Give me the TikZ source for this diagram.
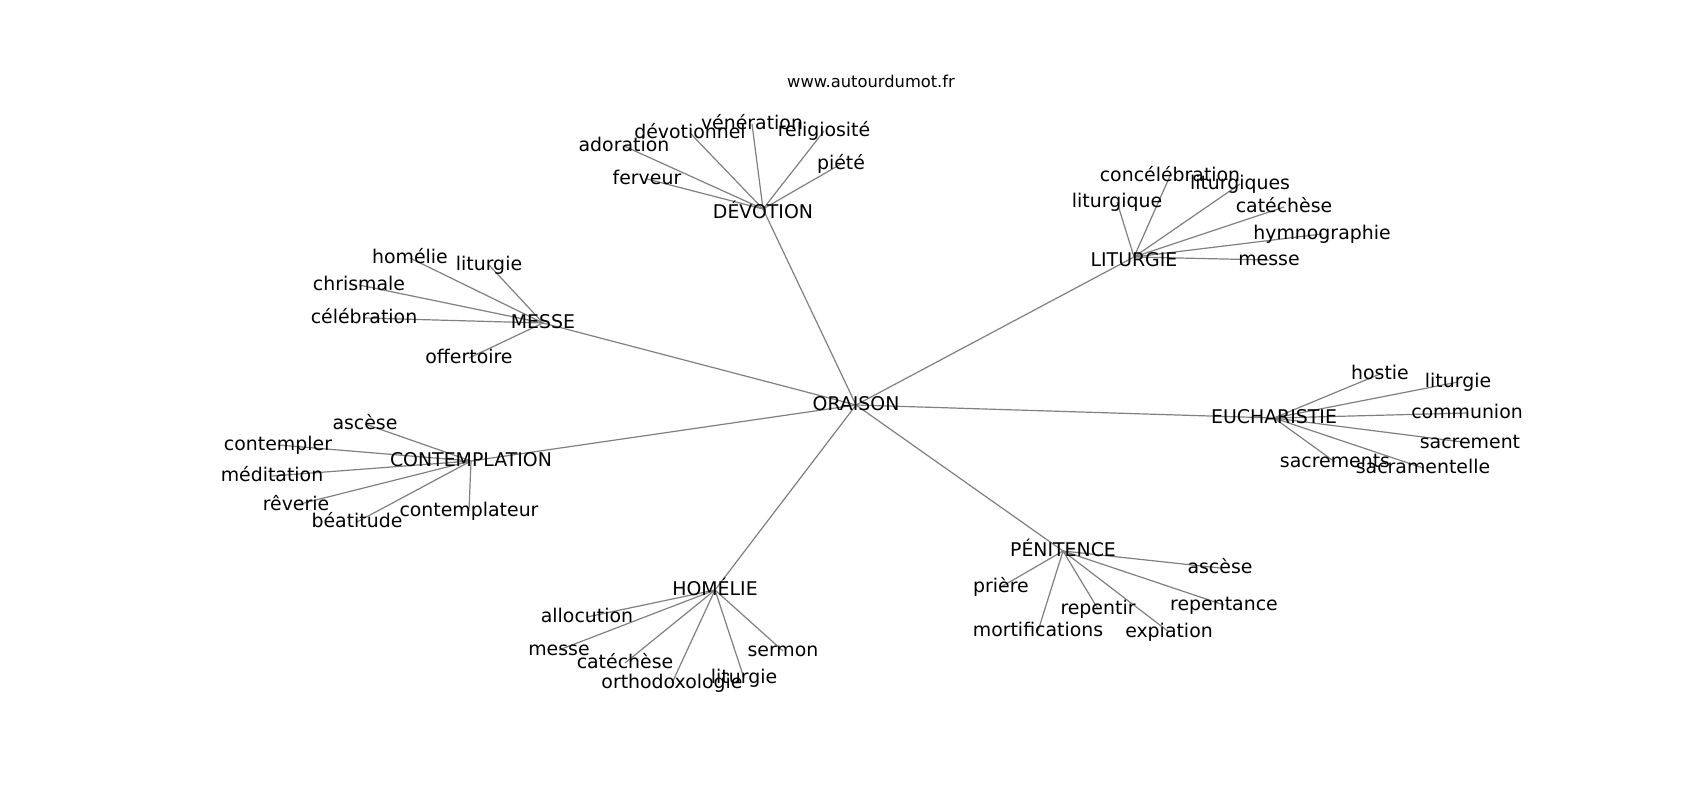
\documentclass[tikz,border=0pt]{standalone}
\usepackage{fontspec}
\setmainfont{DejaVu Sans}
\usetikzlibrary{backgrounds}
\tikzset{
  lbl/.style={inner sep=0pt, outer sep=0pt, text height=1.2em, text depth=0.172em,
    font=\fontsize{18.9pt}{22pt}\selectfont, text=black},
  lowlbl/.style={lbl, text height=2.05em},
  titlelbl/.style={inner sep=0pt, outer sep=0pt, text height=1.2em, text depth=0.172em,
    font=\fontsize{16.3pt}{19pt}\selectfont, text=black},
  edge/.style={draw=gray, line width=1.2pt}
}
\begin{document}
\begin{tikzpicture}[x=1pt,y=-1pt]
\useasboundingbox (0,0) rectangle (1700,800);
% title
\node[titlelbl] (title) at (871,82) {www.autourdumot.fr};
% hubs
\node[lbl] (oraison) at (856,405) {ORAISON};
\node[lowlbl] (devotion) at (763,209) {DÉVOTION};
\node[lowlbl] (liturgie) at (1134,257) {LITURGIE};
\node[lbl] (messe) at (543,323) {MESSE};
\node[lbl] (contemplation) at (471,461) {CONTEMPLATION};
\node[lbl] (eucharistie) at (1274,418) {EUCHARISTIE};
\node[lbl] (homelie) at (715,590) {HOMÉLIE};
\node[lbl] (penitence) at (1063,551) {PÉNITENCE};
% DÉVOTION leaves
\node[lbl] (adoration) at (624,146) {adoration};
\node[lbl] (devotionnel) at (690,133) {dévotionnel};
\node[lbl] (veneration) at (752,124) {vénération};
\node[lbl] (religiosite) at (824,131) {religiosité};
\node[lbl] (piete) at (841,164) {piété};
\node[lbl] (ferveur) at (647,179) {ferveur};
% LITURGIE leaves
\node[lbl] (concelebration) at (1170,176) {concélébration};
\node[lbl] (liturgique) at (1117,202) {liturgique};
\node[lbl] (liturgiques) at (1240,184) {liturgiques};
\node[lbl] (catecheseA) at (1284,207) {catéchèse};
\node[lbl] (hymnographie) at (1322,234) {hymnographie};
\node[lbl] (messeA) at (1269,260) {messe};
% MESSE leaves
\node[lbl] (homelieA) at (410,258) {homélie};
\node[lbl] (liturgieA) at (489,265) {liturgie};
\node[lbl] (chrismale) at (359,285) {chrismale};
\node[lbl] (celebration) at (364,318) {célébration};
\node[lbl] (offertoire) at (469,358) {offertoire};
% CONTEMPLATION leaves
\node[lbl] (asceseA) at (365,424) {ascèse};
\node[lbl] (contempler) at (278,445) {contempler};
\node[lbl] (meditation) at (272,476) {méditation};
\node[lbl] (reverie) at (296,505) {rêverie};
\node[lbl] (beatitude) at (357,522) {béatitude};
\node[lbl] (contemplateur) at (469,511) {contemplateur};
% EUCHARISTIE leaves
\node[lbl] (hostie) at (1380,374) {hostie};
\node[lbl] (liturgieB) at (1458,382) {liturgie};
\node[lbl] (communion) at (1467,413) {communion};
\node[lbl] (sacrement) at (1470,443) {sacrement};
\node[lbl] (sacrements) at (1335,462) {sacrements};
\node[lbl] (sacramentelle) at (1423,468) {sacramentelle};
% HOMÉLIE leaves
\node[lbl] (allocution) at (587,617) {allocution};
\node[lbl] (messeB) at (559,650) {messe};
\node[lbl] (catecheseB) at (625,663) {catéchèse};
\node[lbl] (orthodoxologie) at (672,683) {orthodoxologie};
\node[lbl] (liturgieC) at (744,678) {liturgie};
\node[lbl] (sermon) at (783,651) {sermon};
% PÉNITENCE leaves
\node[lbl] (asceseB) at (1220,568) {ascèse};
\node[lbl] (priere) at (1001,587) {prière};
\node[lbl] (repentir) at (1098,609) {repentir};
\node[lbl] (repentance) at (1224,605) {repentance};
\node[lbl] (mortifications) at (1038,631) {mortifications};
\node[lbl] (expiation) at (1169,632) {expiation};
\begin{pgfonlayer}{background}
\fill[white] (0,0) rectangle (1700,800);
\foreach \a/\b in {oraison/devotion, oraison/liturgie, oraison/messe, oraison/contemplation,
  oraison/eucharistie, oraison/homelie, oraison/penitence,
  devotion/adoration, devotion/devotionnel, devotion/veneration, devotion/religiosite,
  devotion/piete, devotion/ferveur,
  liturgie/concelebration, liturgie/liturgique, liturgie/liturgiques, liturgie/catecheseA,
  liturgie/hymnographie, liturgie/messeA,
  messe/homelieA, messe/liturgieA, messe/chrismale, messe/celebration, messe/offertoire,
  contemplation/asceseA, contemplation/contempler, contemplation/meditation,
  contemplation/reverie, contemplation/beatitude, contemplation/contemplateur,
  eucharistie/hostie, eucharistie/liturgieB, eucharistie/communion, eucharistie/sacrement,
  eucharistie/sacrements, eucharistie/sacramentelle,
  homelie/allocution, homelie/messeB, homelie/catecheseB, homelie/orthodoxologie,
  homelie/liturgieC, homelie/sermon,
  penitence/asceseB, penitence/priere, penitence/repentir, penitence/repentance,
  penitence/mortifications, penitence/expiation}
  \draw[edge] (\a.center) -- (\b.center);
\end{pgfonlayer}
\end{tikzpicture}
\end{document}
